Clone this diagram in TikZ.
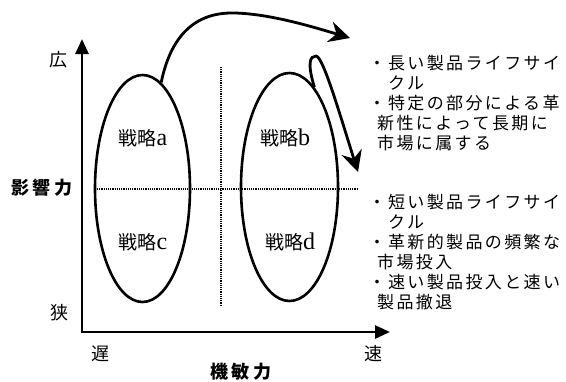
\documentclass[tikz,border=0pt]{standalone}
\usepackage{fontspec}
\newfontfamily\cjk{Noto Sans CJK JP}
\newfontfamily\cjksp{Noto Sans CJK JP}[LetterSpace=14]
\newfontfamily\cjkwide{Noto Sans CJK JP}[LetterSpace=18]
\newfontfamily\latserif{Liberation Serif}
\usetikzlibrary{arrows.meta,shapes.geometric}
\newcommand{\stratlabel}[1]{{\cjk\fontsize{19}{22}\selectfont 戦略}{\latserif\fontsize{24}{26}\selectfont #1}}
\tikzset{
  oval/.style={ellipse, draw, line width=2.6pt, inner sep=0pt},
  axisline/.style={line width=2.8pt, {Triangle[length=15pt,width=13pt]}-{Triangle[length=15pt,width=13pt]}},
  bigarrow/.style={line width=2.8pt, -{Stealth[length=21pt,width=21pt,inset=7pt]}},
  dotline/.style={line width=1.6pt, dash pattern=on 1.1pt off 1.1pt},
  strat/.style={inner sep=0pt},
  ends/.style={font=\cjk\fontsize{18}{20}\selectfont, inner sep=0pt},
  listline/.style={font=\cjksp\fontsize{17}{20}\selectfont, inner sep=0pt, anchor=base west},
  axistitle/.style={font=\cjkwide\bfseries\fontsize{18}{20}\selectfont, inner sep=0pt},
}
\begin{document}
\begin{tikzpicture}[x=1pt,y=-1pt]
\useasboundingbox (0,0) rectangle (566,381);
% axes
\coordinate (ytip) at (82,39);
\coordinate (xtip) at (390,332);
\draw[axisline] (ytip) |- (xtip);
% dotted guides
\coordinate (h1) at (97,189);
\coordinate (h2) at (357,189);
\coordinate (v1) at (221,67);
\coordinate (v2) at (221,306);
\draw[dotline] (h1) -- (h2);
\draw[dotline] (v1) -- (v2);
% ovals
\node[oval, minimum width=95pt, minimum height=227pt] (ea) at (142.5,188.5) {};
\node[oval, minimum width=97pt, minimum height=228pt] (eb) at (289.5,187) {};
% strategy labels
\node[strat] (sa) at (143,138) {\stratlabel{a}};
\node[strat] (sb) at (285,138) {\stratlabel{b}};
\node[strat] (sc) at (143,242) {\stratlabel{c}};
\node[strat] (sd) at (290,242) {\stratlabel{d}};
% axis labels
\node[ends] (hi) at (58,60) {広};
\node[ends] (lo) at (59,313) {狭};
\node[ends] (slow) at (100,354) {遅};
\node[ends] (fast) at (373,354) {速};
\node[axistitle] (infl) at (42,188) {影響力};
\node[axistitle] (agil) at (241,372) {機敏力};
% curved arrows
\coordinate (t1) at (350,38);
\coordinate (t2) at (358,172);
\draw[bigarrow] (ea.80) .. controls (172,30) and (200,12) .. (235,13)
   .. controls (270,14) and (310,26) .. (t1);
\draw[bigarrow] (eb.76) .. controls (307,63) and (310,56) .. (316,56)
   .. controls (323,56) and (340,115) .. (t2);
% list 1
\node[listline] (a1) at (368.5,69.5) {・長い製品ライフサイ};
\node[listline] (a2) at (388,89.5) {クル};
\node[listline] (a3) at (368.5,109.5) {・特定の部分による革};
\node[listline] (a4) at (377,129.5) {新性によって長期に};
\node[listline] (a5) at (377,149.5) {市場に属する};
% list 2
\node[listline] (b1) at (368.5,208.5) {・短い製品ライフサイ};
\node[listline] (b2) at (388,228.5) {クル};
\node[listline] (b3) at (368.5,248.5) {・革新的製品の頻繁な};
\node[listline] (b4) at (377,268.5) {市場投入};
\node[listline] (b5) at (368.5,288.5) {・速い製品投入と速い};
\node[listline] (b6) at (377,308.5) {製品撤退};
\end{tikzpicture}
\end{document}
